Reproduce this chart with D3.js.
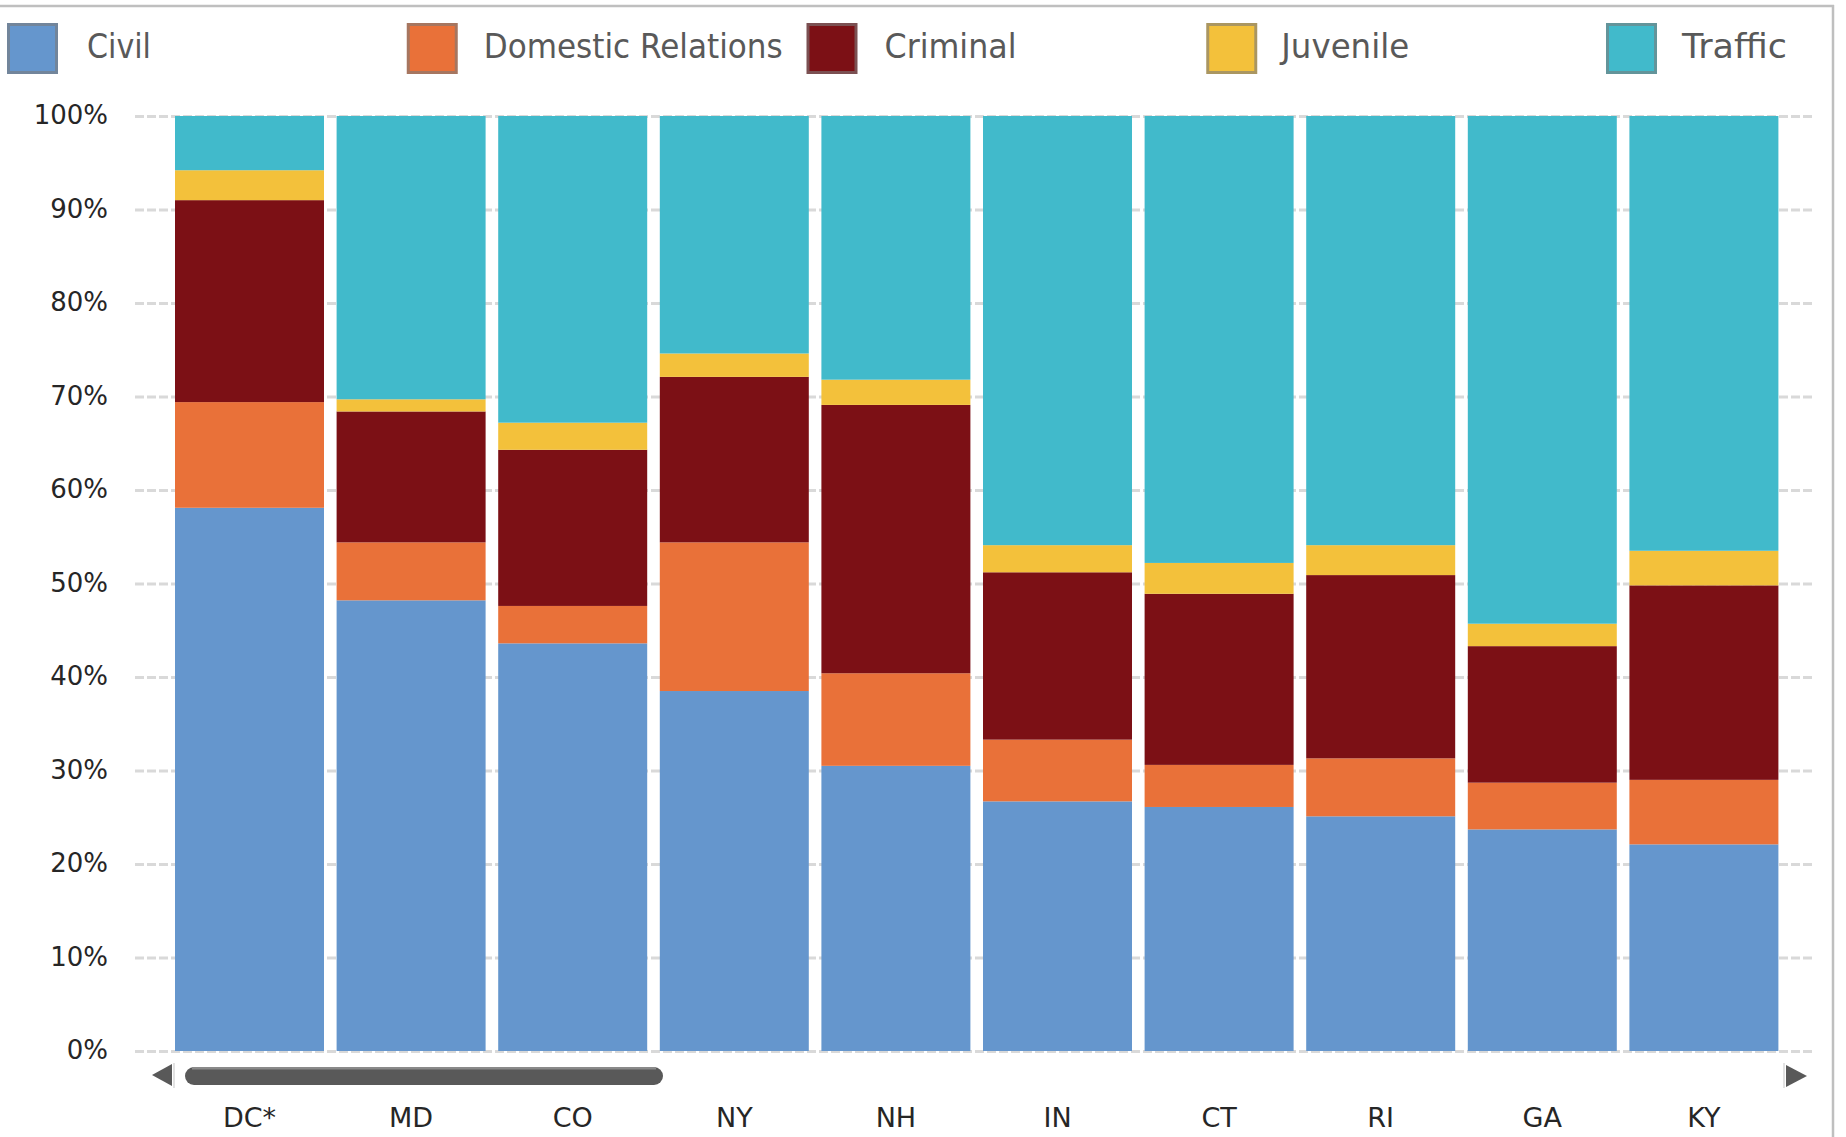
<!DOCTYPE html>
<html>
<head>
<meta charset="utf-8">
<script src="https://cdn.jsdelivr.net/npm/d3@7"></script>
<style>
  html, body { margin: 0; padding: 0; background: #fff; }
  svg { display: block; }
</style>
</head>
<body>
<svg id="chart" width="1846" height="1137"></svg>
<script>
// ---- Data ----
const states = ["DC*", "MD", "CO", "NY", "NH", "IN", "CT", "RI", "GA", "KY"];
const seriesNames = ["Civil", "Domestic Relations", "Criminal", "Juvenile", "Traffic"];
const civil      = [58.1, 48.2, 43.6, 38.5, 30.5, 26.7, 26.1, 25.1, 23.7, 22.1];
const domestic   = [11.3,  6.2,  4.0, 15.9,  9.9,  6.6,  4.5,  6.2,  5.0,  6.9];
const criminal   = [21.6, 14.0, 16.7, 17.7, 28.7, 17.9, 18.3, 19.6, 14.6, 20.8];
const juvenile   = [ 3.2,  1.3,  2.9,  2.5,  2.7,  2.9,  3.3,  3.2,  2.4,  3.7];
const traffic    = [ 5.8, 30.3, 32.8, 25.4, 28.2, 45.9, 47.8, 45.9, 54.3, 46.5];
const yTicks = [0, 10, 20, 30, 40, 50, 60, 70, 80, 90, 100];

const colors = ["#6596CD", "#E97139", "#7C1015", "#F3C13B", "#41BACB"];

// ---- Build table ----
const seriesValues = [civil, domestic, criminal, juvenile, traffic];
const table = states.map((s, i) => {
  const row = { state: s };
  seriesNames.forEach((n, k) => { row[n] = seriesValues[k][i]; });
  return row;
});
const stacked = d3.stack().keys(seriesNames).offset(d3.stackOffsetExpand)(table);

const svg = d3.select("#chart");

// ---- Scales ----
const x = d3.scaleBand().domain(states).range([168.7, 1784.7]).paddingInner(0.078).paddingOuter(0.039);
const y = d3.scaleLinear().domain([0, 1]).range([1051, 116]);
const yPct = d3.scaleLinear().domain([0, 100]).range([1051, 116]);

// ---- Chart border (top + right) ----
svg.append("line").attr("x1", 0).attr("x2", 1834).attr("y1", 6).attr("y2", 6)
  .attr("stroke", "#bfbfbf").attr("stroke-width", 2.5);
svg.append("line").attr("x1", 1833).attr("x2", 1833).attr("y1", 5).attr("y2", 1137)
  .attr("stroke", "#bfbfbf").attr("stroke-width", 2.5);

// ---- Gridlines ----
const grid = svg.append("g").attr("transform", "translate(135,0)")
  .call(d3.axisRight(yPct).tickValues(yTicks).tickSize(1680).tickFormat(""));
grid.select(".domain").remove();
grid.selectAll(".tick line")
  .attr("stroke", "#d9d9d9").attr("stroke-width", 3).attr("stroke-dasharray", "9,3");

// ---- Bars ----
svg.append("g").selectAll("g")
  .data(stacked).join("g")
  .attr("fill", (d, i) => colors[i])
  .selectAll("rect")
  .data(d => d).join("rect")
  .attr("x", d => x(d.data.state))
  .attr("width", x.bandwidth())
  .attr("y", d => y(d[1]))
  .attr("height", d => y(d[0]) - y(d[1]));

// ---- Y axis ----
const yAxis = svg.append("g").attr("transform", "translate(108,0)")
  .call(d3.axisLeft(yPct).tickValues(yTicks).tickSize(0).tickPadding(0).tickFormat(d => d + "%"));
yAxis.select(".domain").remove();
yAxis.selectAll("text")
  .attr("font-family", "DejaVu Sans, sans-serif")
  .attr("font-size", 26)
  .attr("fill", "#262626")
  .attr("dy", "0.3em");

// ---- X axis ----
const xAxis = svg.append("g").attr("transform", "translate(0,1051)")
  .call(d3.axisBottom(x).tickSize(0).tickPadding(57));
xAxis.select(".domain").remove();
xAxis.selectAll("text")
  .attr("font-family", "DejaVu Sans, sans-serif")
  .attr("font-size", 27)
  .attr("fill", "#262626");

// ---- Scrollbar ----
const sb = svg.append("g");
sb.append("path").attr("d", "M152,1075 L172,1064 L172,1086 Z").attr("fill", "#595959");
sb.append("line").attr("x1", 174).attr("x2", 174).attr("y1", 1063).attr("y2", 1088)
  .attr("stroke", "#d9d9d9").attr("stroke-width", 1.5);
sb.append("rect").attr("x", 185).attr("y", 1067).attr("width", 478).attr("height", 18)
  .attr("rx", 9).attr("fill", "#595959");
sb.append("rect").attr("x", 192).attr("y", 1067).attr("width", 464).attr("height", 2.5)
  .attr("fill", "#8a8a8a");
sb.append("path").attr("d", "M1807,1076 L1786,1065 L1786,1087 Z").attr("fill", "#595959");
sb.append("line").attr("x1", 1784).attr("x2", 1784).attr("y1", 1063).attr("y2", 1088)
  .attr("stroke", "#d9d9d9").attr("stroke-width", 1.5);

// ---- Legend ----
const legendX = d3.scalePoint().domain(seriesNames).range([7, 1606]);
const textWidths = [64, 299, 132, 128, 105];
const textOffsets = [80, 77, 78, 75, 76];
const lg = svg.append("g").selectAll("g").data(seriesNames).join("g")
  .attr("transform", d => `translate(${legendX(d)},0)`);
lg.append("rect")
  .attr("x", 1.5).attr("y", 24.5).attr("width", 48).attr("height", 48)
  .attr("fill", (d, i) => colors[i])
  .attr("stroke", (d, i) => d3.interpolateRgb(colors[i], "#7a7a7a")(0.6))
  .attr("stroke-width", 3);
lg.append("text")
  .attr("x", (d, i) => textOffsets[i])
  .attr("y", 58)
  .attr("font-family", "DejaVu Sans, sans-serif")
  .attr("font-size", 34)
  .attr("fill", "#595959")
  .attr("textLength", (d, i) => textWidths[i])
  .attr("lengthAdjust", "spacingAndGlyphs")
  .text(d => d);
</script>
</body>
</html>
